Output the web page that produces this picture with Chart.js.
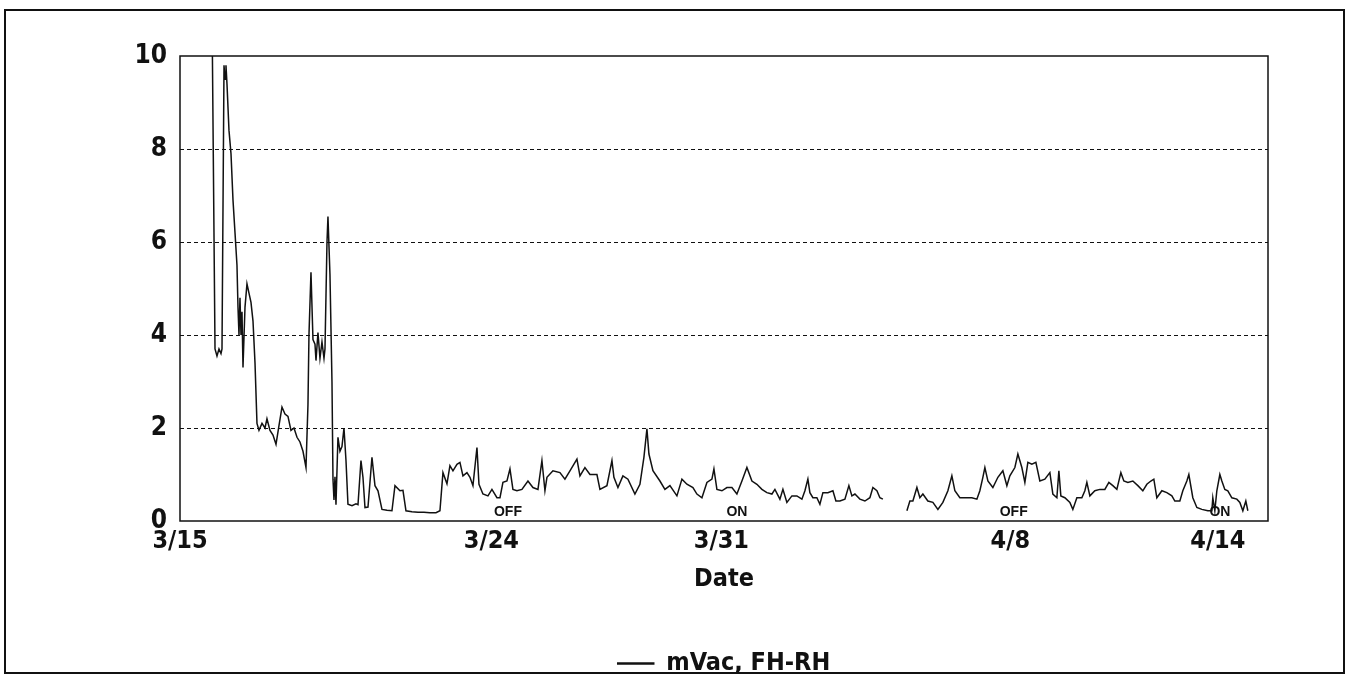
<!DOCTYPE html>
<html>
<head>
<meta charset="utf-8">
<title>mVac, FH-RH</title>
<script src="https://cdn.jsdelivr.net/npm/chart.js@4.4.1/dist/chart.umd.min.js"></script>
<style>
  html, body { margin: 0; padding: 0; background: #fff; }
  #wrap { position: relative; width: 1350px; height: 677px; }
  #wrap canvas { position: absolute; left: 0; top: 0; }
  #frame { position: absolute; left: 4px; top: 9px; width: 1337px; height: 661px; border: 2px solid #111; pointer-events: none; }
</style>
</head>
<body>
<div id="wrap">
  <canvas id="mvacChart" width="1350" height="677"></canvas>
  <div id="frame"></div>
</div>
<script>
// days since 3/15 for each reading
var days = [
  0.925, 1.012, 1.069, 1.127, 1.185, 1.214, 1.272, 1.301, 1.329, 1.358,
  1.416, 1.474, 1.532, 1.590, 1.647, 1.676, 1.705, 1.734, 1.763, 1.792,
  1.821, 1.879, 1.936, 1.994, 2.052, 2.110, 2.168, 2.225, 2.283, 2.370,
  2.457, 2.514, 2.601, 2.688, 2.775, 2.861, 2.948, 3.035, 3.121, 3.208,
  3.295, 3.382, 3.468, 3.555, 3.642, 3.699, 3.728, 3.786, 3.844, 3.902,
  3.931, 3.988, 4.046, 4.104, 4.162, 4.191, 4.249, 4.277, 4.335, 4.393,
  4.422, 4.451, 4.480, 4.509, 4.566, 4.624, 4.682, 4.740, 4.798, 4.855,
  4.971, 5.087, 5.145, 5.231, 5.289, 5.347, 5.434, 5.549, 5.636, 5.723,
  5.838, 5.983, 6.127, 6.214, 6.358, 6.445, 6.532, 6.705, 6.879, 7.052,
  7.225, 7.399, 7.514, 7.601, 7.717, 7.803, 7.890, 8.006, 8.092, 8.179,
  8.295, 8.382, 8.468, 8.584, 8.642, 8.757, 8.902, 9.017, 9.162, 9.249,
  9.335, 9.451, 9.538, 9.624, 9.740, 9.884, 10.058, 10.202, 10.347, 10.462,
  10.549, 10.607, 10.780, 10.983, 11.127, 11.272, 11.474, 11.561, 11.705, 11.850,
  12.052, 12.139, 12.341, 12.486, 12.543, 12.659, 12.803, 12.948, 13.150, 13.295,
  13.410, 13.497, 13.555, 13.671, 13.873, 14.017, 14.162, 14.364, 14.509, 14.653,
  14.827, 14.942, 15.087, 15.231, 15.376, 15.434, 15.520, 15.665, 15.809, 15.954,
  16.098, 16.243, 16.387, 16.532, 16.676, 16.821, 16.965, 17.110, 17.197, 17.341,
  17.428, 17.543, 17.688, 17.832, 17.977, 18.064, 18.150, 18.208, 18.295, 18.410,
  18.497, 18.584, 18.728, 18.873, 18.960, 19.075, 19.220, 19.335, 19.422, 19.509,
  19.653, 19.798, 19.942, 20.029, 20.145, 20.231, 20.318, 20.660,
  21.012, 21.098, 21.185, 21.301, 21.387, 21.474, 21.618, 21.763, 21.908, 22.052,
  22.197, 22.312, 22.399, 22.543, 22.746, 22.890, 23.035, 23.121, 23.208, 23.266,
  23.353, 23.497, 23.642, 23.786, 23.902, 23.988, 24.133, 24.220, 24.335, 24.422,
  24.509, 24.624, 24.740, 24.855, 25.000, 25.145, 25.231, 25.347, 25.405, 25.462,
  25.578, 25.723, 25.809, 25.925, 26.069, 26.156, 26.214, 26.301, 26.445, 26.590,
  26.734, 26.850, 26.965, 27.081, 27.197, 27.283, 27.399, 27.543, 27.688, 27.832,
  27.948, 28.064, 28.150, 28.237, 28.382, 28.526, 28.671, 28.757, 28.902, 28.988,
  29.104, 29.162, 29.277, 29.393, 29.538, 29.711, 29.827, 29.855, 29.913, 29.971,
  30.058, 30.116, 30.202, 30.289, 30.405, 30.549, 30.636, 30.723, 30.809, 30.867
];

// mVac, FH-RH (null = no data)
var mvac = [
  11, 3.7, 3.55, 3.7, 3.6, 3.7, 9.8, 9.5, 9.8, 9.4,
  8.4, 7.9, 6.9, 6.2, 5.5, 4.6, 4.0, 4.8, 4.0, 4.5,
  3.3, 4.6, 5.1, 4.9, 4.7, 4.3, 3.4, 2.1, 1.95, 2.1,
  2.0, 2.2, 1.95, 1.85, 1.65, 2.05, 2.45, 2.3, 2.25, 1.95,
  2.0, 1.8, 1.7, 1.5, 1.15, 2.5, 4.0, 5.35, 3.9, 3.8,
  3.45, 4.05, 3.5, 3.85, 3.5, 3.7, 6.0, 6.55, 5.3, 3.0,
  0.9, 0.45, 0.95, 0.35, 1.8, 1.5, 1.6, 2.0, 1.3, 0.36,
  0.33, 0.37, 0.35, 1.3, 0.94, 0.29, 0.3, 1.37, 0.76, 0.65,
  0.25, 0.23, 0.22, 0.76, 0.65, 0.66, 0.22, 0.2, 0.19, 0.19,
  0.18, 0.18, 0.22, 1.04, 0.8, 1.19, 1.08, 1.22, 1.26, 0.97,
  1.04, 0.94, 0.76, 1.58, 0.79, 0.58, 0.54, 0.68, 0.5, 0.5,
  0.83, 0.86, 1.12, 0.68, 0.65, 0.68, 0.86, 0.72, 0.68, 1.3,
  0.65, 0.94, 1.08, 1.04, 0.9, 1.08, 1.33, 0.97, 1.15, 1.0,
  1.0, 0.68, 0.76, 1.3, 0.94, 0.72, 0.97, 0.9, 0.58, 0.79,
  1.37, 1.98, 1.44, 1.08, 0.86, 0.68, 0.76, 0.54, 0.9, 0.79,
  0.72, 0.58, 0.5, 0.83, 0.9, 1.12, 0.68, 0.65, 0.72, 0.72,
  0.58, 0.86, 1.15, 0.86, 0.79, 0.68, 0.61, 0.58, 0.68, 0.47,
  0.68, 0.4, 0.54, 0.54, 0.47, 0.65, 0.9, 0.61, 0.5, 0.5,
  0.36, 0.61, 0.61, 0.65, 0.43, 0.43, 0.47, 0.76, 0.54, 0.58,
  0.47, 0.43, 0.5, 0.72, 0.65, 0.5, 0.47, null,
  0.22, 0.43, 0.43, 0.72, 0.5, 0.58, 0.43, 0.4, 0.25, 0.4,
  0.65, 0.97, 0.65, 0.5, 0.5, 0.5, 0.47, 0.65, 0.94, 1.15,
  0.86, 0.72, 0.94, 1.08, 0.76, 0.97, 1.15, 1.44, 1.15, 0.83,
  1.26, 1.22, 1.26, 0.86, 0.9, 1.04, 0.58, 0.5, 1.08, 0.54,
  0.5, 0.4, 0.25, 0.5, 0.5, 0.65, 0.83, 0.54, 0.65, 0.68,
  0.68, 0.83, 0.76, 0.68, 1.04, 0.86, 0.83, 0.86, 0.76, 0.65,
  0.79, 0.86, 0.9, 0.5, 0.65, 0.61, 0.54, 0.43, 0.43, 0.65,
  0.86, 1.0, 0.5, 0.29, 0.25, 0.22, 0.22, 0.5, 0.22, 0.65,
  1.0, 0.86, 0.68, 0.65, 0.5, 0.47, 0.4, 0.22, 0.43, 0.22
];

var tickDays = [0, 9, 15.65, 24, 30];
var tickLabels = ['3/15', '3/24', '3/31', '4/8', '4/14'];
var yTicks = [0, 2, 4, 6, 8, 10];

// OFF / ON markers along the bottom
var noteLabels = ['OFF', 'ON', 'OFF', 'ON'];
var noteDays = [9.48, 16.1, 24.1, 30.06];
var noteLevel = 0.19;

var narrow = '"Liberation Sans Narrow", "DejaVu Sans Condensed", "Arial Narrow", sans-serif';
Chart.defaults.font.family = narrow;
Chart.defaults.font.weight = 'bold';
Chart.defaults.color = '#111';

var points = days.map(function(d, i) { return { x: d, y: mvac[i] }; });

var framePlugin = {
    id: 'frameNotes',
    afterDatasetsDraw: function(chart) {
        var ctx = chart.ctx;
        var area = chart.chartArea;
        var xs = chart.scales.x, ys = chart.scales.y;
        ctx.save();
        ctx.strokeStyle = '#111';
        ctx.lineWidth = 1.5;
        ctx.strokeRect(area.left, area.top, area.right - area.left, area.bottom - area.top);
        ctx.fillStyle = '#111';
        ctx.font = 'bold 14px "Liberation Sans", Arial, sans-serif';
        ctx.textAlign = 'center';
        ctx.textBaseline = 'middle';
        noteLabels.forEach(function(t, i) {
            ctx.fillText(t, xs.getPixelForValue(noteDays[i]), ys.getPixelForValue(noteLevel));
        });
        ctx.restore();
    }
};

var ctx = document.getElementById('mvacChart').getContext('2d');
var mvacChart = new Chart(ctx, {
    type: 'line',
    data: {
        datasets: [{
            label: 'mVac, FH-RH',
            data: points,
            borderColor: '#111',
            backgroundColor: '#111',
            borderWidth: 1.5,
            pointRadius: 0,
            tension: 0,
            spanGaps: false
        }]
    },
    options: {
        responsive: false,
        animation: false,
        devicePixelRatio: 1,
        layout: { padding: { left: 8, right: 82, top: 56, bottom: -9 } },
        scales: {
            x: {
                type: 'linear',
                min: 0,
                max: 31.45,
                afterBuildTicks: function(scale) {
                    scale.ticks = tickDays.map(function(v) { return { value: v }; });
                },
                ticks: {
                    autoSkip: false,
                    maxRotation: 0,
                    padding: 5,
                    font: { size: 25, weight: 'bold' },
                    callback: function(v) { return tickLabels[tickDays.indexOf(v)]; }
                },
                grid: { display: false, drawTicks: false },
                border: { display: false },
                title: {
                    display: true,
                    text: 'Date',
                    font: { size: 25, weight: 'bold' },
                    padding: { top: 3, bottom: 57 }
                }
            },
            y: {
                min: 0,
                max: 10,
                afterBuildTicks: function(scale) {
                    scale.ticks = yTicks.map(function(v) { return { value: v }; });
                },
                afterFit: function(scale) { scale.width = 172; },
                ticks: {
                    padding: 13,
                    font: { size: 26, weight: 'bold' }
                },
                grid: {
                    drawTicks: false,
                    color: function(c) {
                        return (c.tick && (c.tick.value === 0 || c.tick.value === 10)) ? 'rgba(0,0,0,0)' : '#111';
                    },
                    lineWidth: 1
                },
                border: { display: false, dash: [4, 3] }
            }
        },
        plugins: {
            legend: {
                position: 'bottom',
                fullSize: false,
                labels: {
                    boxWidth: 36,
                    boxHeight: 1,
                    padding: 0,
                    font: { size: 25, weight: 'bold' }
                }
            },
            tooltip: { enabled: false }
        }
    },
    plugins: [framePlugin]
});
</script>
</body>
</html>
